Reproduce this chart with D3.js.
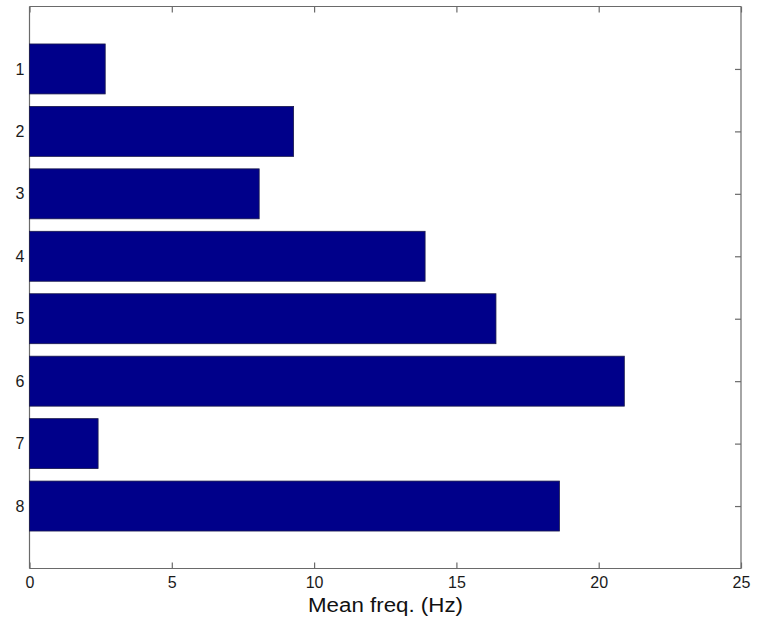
<!DOCTYPE html>
<html>
<head>
<meta charset="utf-8">
<script src="https://cdn.jsdelivr.net/npm/d3@7"></script>
<style>
  html, body { margin: 0; padding: 0; background: #fff; }
  svg { display: block; }
</style>
</head>
<body>
<script>
const categories = [1, 2, 3, 4, 5, 6, 7, 8];
const values = [2.66, 9.28, 8.07, 13.9, 16.39, 20.9, 2.41, 18.62];
const xTicks = [0, 5, 10, 15, 20, 25];
const xLabel = "Mean freq. (Hz)";

(function () {
const W = 767, H = 622;
const mLeft = 29.5, mRight = 741, mTop = 6.5, mBottom = 568.5;

const svg = d3.select("body").append("svg").attr("width", W).attr("height", H);

const x = d3.scaleLinear().domain([0, 25]).range([mLeft, mRight]);
const y = d3.scaleLinear().domain([0, 9]).range([mTop, mBottom]);
const barH = y(0.8) - y(0);

const axisColor = "#6a6a6a";
const font = "'Liberation Sans', Arial, sans-serif";

// Axes
const tickLen = 6;
const bottomAxis = d3.axisBottom(x).tickValues(xTicks).tickSize(-tickLen).tickPadding(8).tickFormat(d3.format("d"));
const topAxis = d3.axisTop(x).tickValues(xTicks).tickSize(-tickLen).tickFormat("");
const leftAxis = d3.axisLeft(y).tickValues(categories).tickSize(-tickLen).tickPadding(5).tickFormat(d3.format("d"));
const rightAxis = d3.axisRight(y).tickValues(categories).tickSize(-tickLen).tickFormat("");

function style(g) {
  g.select(".domain").attr("stroke", axisColor).attr("stroke-width", 1.2);
  g.selectAll(".tick line").attr("stroke", axisColor).attr("stroke-width", 1.2);
  g.selectAll(".tick text").attr("fill", "#1a1a1a").style("font-family", font).style("font-size", "16px");
}

svg.append("g").attr("transform", `translate(0,${mBottom})`).call(bottomAxis).call(style)
  .call(g => g.selectAll(".domain").attr("d", `M${mLeft},0H${mRight}`));
svg.append("g").attr("transform", `translate(0,${mTop})`).call(topAxis).call(style)
  .call(g => g.selectAll(".domain").attr("d", `M${mLeft},0H${mRight}`));
svg.append("g").attr("transform", `translate(${mLeft},0)`).call(leftAxis).call(style)
  .call(g => g.selectAll(".domain").attr("d", `M0,${mTop}V${mBottom}`));
svg.append("g").attr("transform", `translate(${mRight},0)`).call(rightAxis).call(style)
  .call(g => g.selectAll(".domain").attr("d", `M0,${mTop}V${mBottom}`));

// Bars (drawn above the axes, covering the inner left ticks as in the reference)
svg.append("g").selectAll("rect").data(categories).join("rect")
  .attr("x", x(0))
  .attr("y", (d) => y(d - 0.4))
  .attr("width", (d, i) => x(values[i]) - x(0))
  .attr("height", barH)
  .attr("fill", "#00008a")
  .attr("stroke", "#1a1a4a")
  .attr("stroke-width", 0.8);

// X label
svg.append("text")
  .attr("x", 385.5)
  .attr("y", 611.7)
  .attr("text-anchor", "middle")
  .attr("fill", "#111")
  .attr("textLength", 155)
  .attr("lengthAdjust", "spacingAndGlyphs")
  .style("font-family", font)
  .style("font-size", "19.5px")
  .text(xLabel);
})();
</script>
</body>
</html>
